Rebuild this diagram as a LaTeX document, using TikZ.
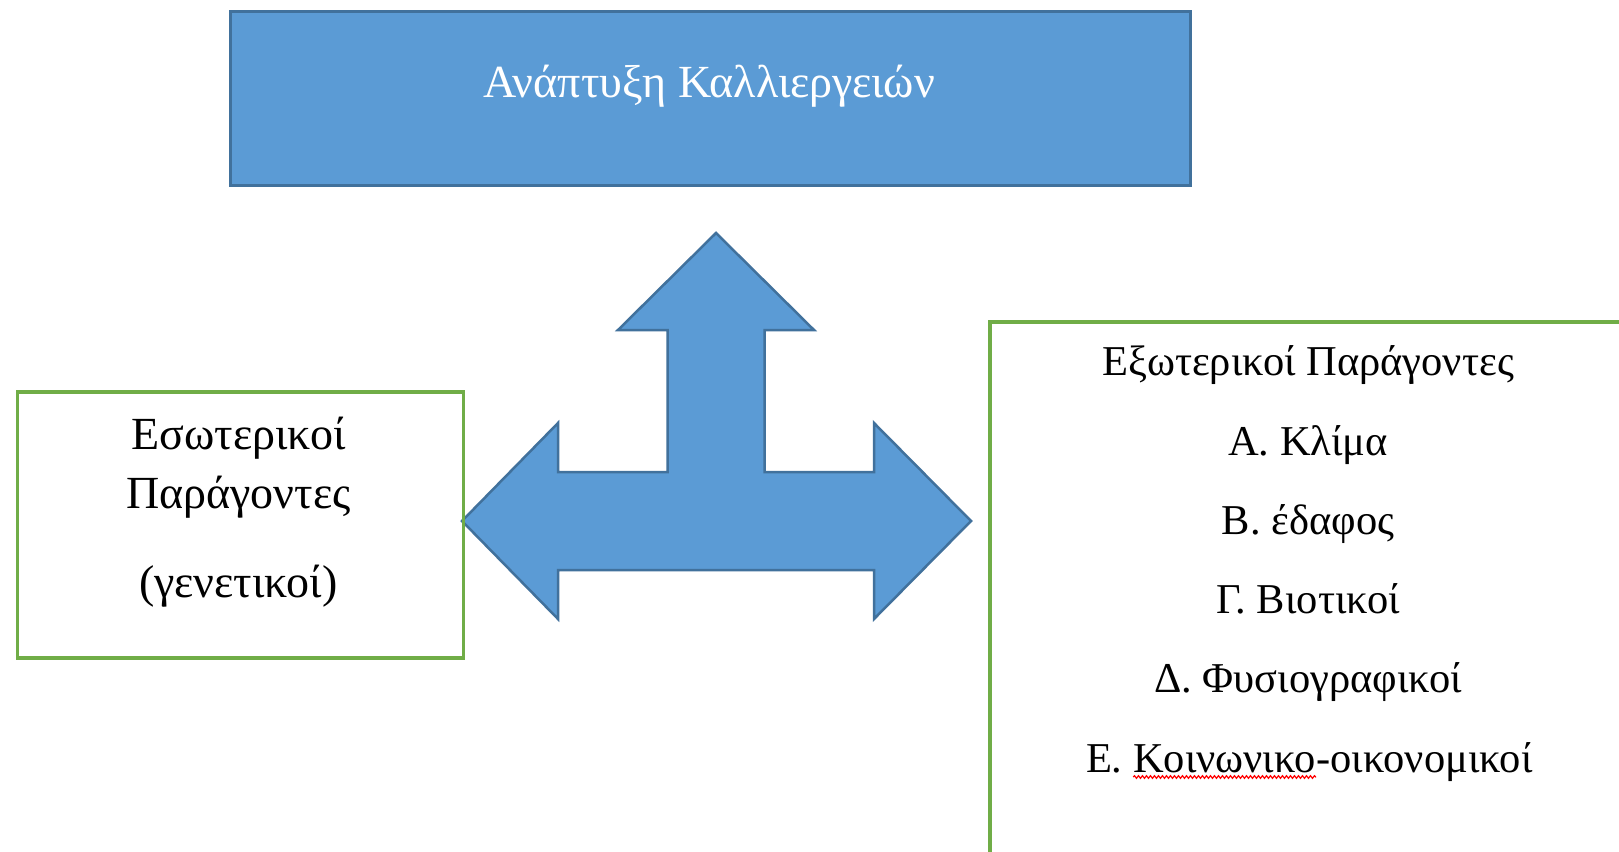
\documentclass[tikz,border=0pt]{standalone}
\usepackage{fontspec}
\setmainfont{Liberation Serif}
\usetikzlibrary{decorations.pathmorphing}
\definecolor{boxblue}{HTML}{5B9BD5}
\definecolor{edgeblue}{HTML}{41719C}
\definecolor{framegreen}{HTML}{70AD47}
\begin{document}
\begin{tikzpicture}[x=1pt,y=-1pt,
  bluebox/.style={draw=edgeblue, fill=boxblue, line width=3pt},
  arrowshape/.style={draw=edgeblue, fill=boxblue, line width=2.5pt, line join=miter},
  greenframe/.style={draw=framegreen, line width=3.5pt},
  toplabel/.style={font=\fontsize{46}{54}\selectfont, text=white, inner sep=0pt, anchor=base},
  leftlabel/.style={font=\fontsize{46}{54}\selectfont, inner sep=0pt, anchor=base},
  rightlabel/.style={font=\fontsize{42.5}{50}\selectfont, inner sep=0pt, anchor=base},
  rightpart/.style={font=\fontsize{42.5}{50}\selectfont, inner sep=0pt, outer sep=0pt, anchor=base west},
  spellmark/.style={draw=red, line width=1.2pt, decorate, decoration={snake, amplitude=1.3pt, segment length=4pt}}]
\useasboundingbox (0,0) rectangle (1619,851);
\fill[white] (0,0) rectangle (1619,851);
% top box
\node[bluebox, minimum width=960pt, minimum height=174pt, anchor=north west] (top) at (229,10) {};
\node[toplabel] (toptext) at (709,97) {Ανάπτυξη Καλλιεργειών};
% three-headed arrow
\draw[arrowshape] (716,233) -- (814,330) -- (764.5,330) -- (764.5,472) -- (874,472) -- (874,423)
  -- (971,521) -- (874,619) -- (874,570) -- (558,570) -- (558,619) -- (462,521) -- (558,423)
  -- (558,472) -- (667.5,472) -- (667.5,330) -- (618,330) -- cycle;
% left box
\node[greenframe, minimum width=446pt, minimum height=266pt, anchor=north west] (left) at (15.5,390) {};
\node[leftlabel] (l1) at (238.5,449) {Εσωτερικοί};
\node[leftlabel] (l2) at (238.5,508) {Παράγοντες};
\node[leftlabel] (l3) at (238.5,597) {(γενετικοί)};
% right box
\begin{scope}
\clip (0,0) rectangle (1619,851);
\node[greenframe, minimum width=700pt, minimum height=600pt, anchor=north west] (right) at (988,320) {};
\end{scope}
\node[rightlabel] (r1) at (1308,375) {Εξωτερικοί Παράγοντες};
\node[rightlabel] (r2) at (1308,455.5) {Α. Κλίμα};
\node[rightlabel] (r3) at (1308,534.5) {Β. έδαφος};
\node[rightlabel] (r4) at (1308,613.5) {Γ. Βιοτικοί};
\node[rightlabel] (r5) at (1308,692.5) {Δ. Φυσιογραφικοί};
\node[rightpart] (r6a) at (1086,772) {Ε.\hbox to 0.25em{}};
\node[rightpart] (r6b) at (r6a.base east) {Κοινωνικο};
\node[rightpart] (r6c) at (r6b.base east) {-οικονομικοί};
\draw[spellmark] ([yshift=-5pt]r6b.base west) -- ([yshift=-5pt]r6b.base east);
\end{tikzpicture}
\end{document}
